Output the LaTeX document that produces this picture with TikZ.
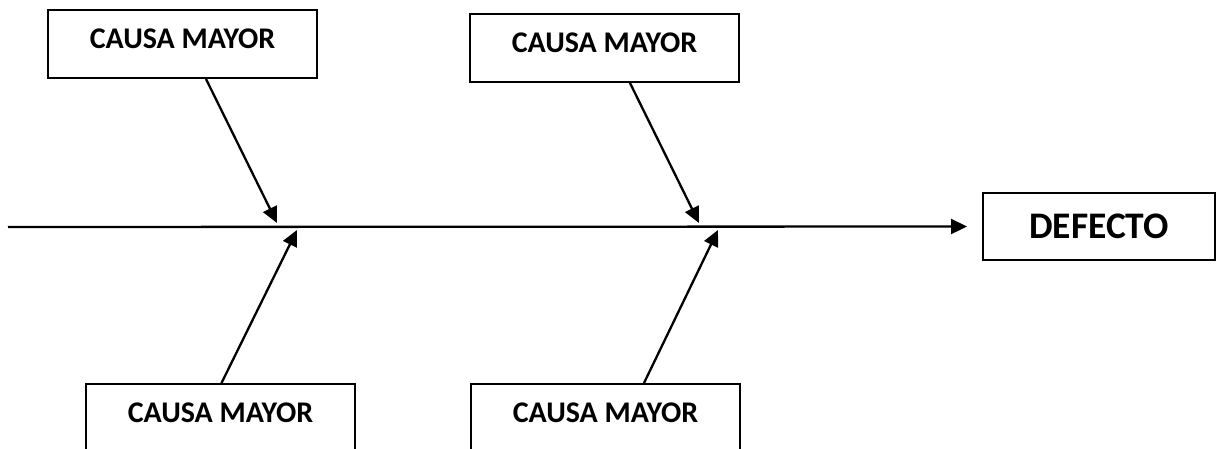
\documentclass[tikz,border=0pt]{standalone}
\usepackage{fontspec}
\setmainfont{Carlito}
\usetikzlibrary{arrows.meta}
\begin{document}
\begin{tikzpicture}[x=1pt,y=-1pt,
  causebox/.style={draw, line width=2pt, minimum width=269pt, inner sep=0pt,
    text height=38.5pt, text depth=29.5pt, anchor=north west,
    font=\fontsize{30}{32}\selectfont\bfseries},
  openbox/.style={causebox, text depth=79.5pt},
  effectbox/.style={draw, line width=2pt, minimum width=232pt, minimum height=67pt,
    inner sep=0pt, font=\fontsize{37.5}{40}\selectfont\bfseries},
  bone/.style={line width=2.3pt, -{Triangle[length=16pt,width=15pt]}}]
  \useasboundingbox (0,0) rectangle (1216,449);
  \clip (0,0) rectangle (1216,449);

  % cause boxes
  \node[causebox] (c1) at (47,9) {CAUSA MAYOR};
  \node[causebox] (c2) at (469,13) {CAUSA MAYOR};
  \node[openbox] (c3) at (85,383) {CAUSA MAYOR};
  \node[openbox] (c4) at (470,383) {CAUSA MAYOR};

  % effect box
  \node[effectbox] (eff) at (1099,226.5) {DEFECTO};

  % spine
  \coordinate (tail) at (8,227);
  \draw[bone, shorten >=15pt] (tail) -- (eff.west);

  % joints on the spine
  \coordinate (j1) at (277,223);
  \coordinate (j2) at (297,230);
  \coordinate (j3) at (699,223);
  \coordinate (j4) at (718,230);

  % bones
  \draw[bone] ([xshift=23.5pt]c1.south) -- (j1);
  \draw[bone] ([xshift=25.5pt]c2.south) -- (j3);
  \draw[bone] ([xshift=1pt]c3.north) -- (j2);
  \draw[bone] ([xshift=38.5pt]c4.north) -- (j4);
\end{tikzpicture}
\end{document}
